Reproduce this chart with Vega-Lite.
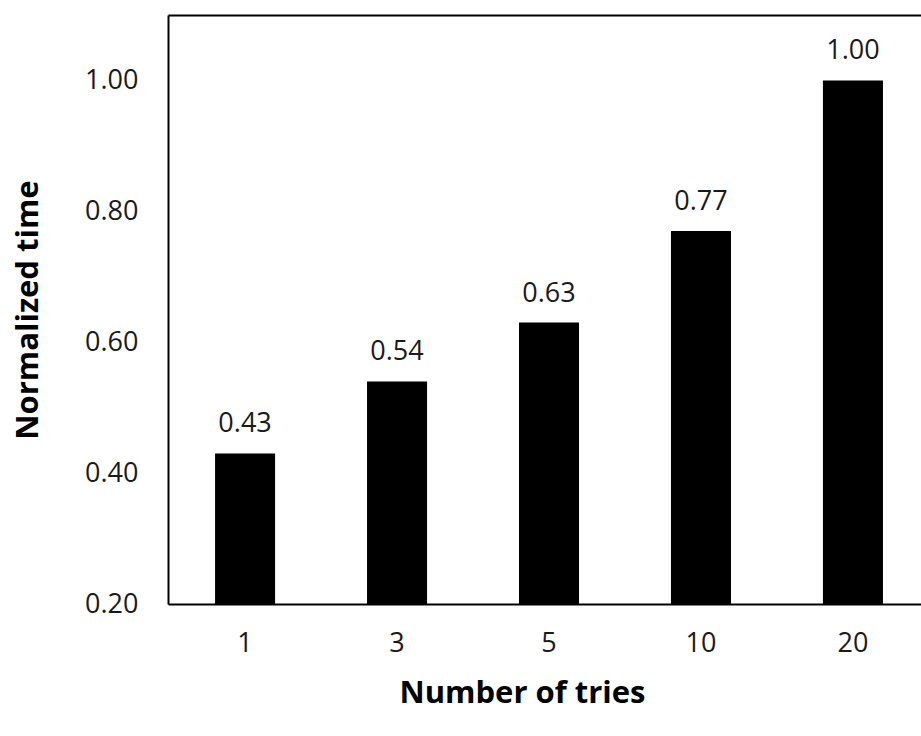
{
  "$schema": "https://vega.github.io/schema/vega-lite/v6.json",
  "width": 753,
  "height": 589,
  "autosize": {"type": "none"},
  "padding": {"left": 168, "top": 15, "right": 0, "bottom": 132},
  "background": "white",
  "config": {
    "view": {"stroke": null},
    "font": "Open Sans",
    "axis": {"grid": false, "ticks": false, "labelFontSize": 27, "labelColor": "#1a1a1a", "titleFontSize": 31, "titleFontWeight": "bold", "titleColor": "#000000", "domainColor": "#000000", "domainWidth": 2}
  },
  "data": {
    "values": [
      {"tries": "1", "time": 0.43, "label": "0.43"},
      {"tries": "3", "time": 0.54, "label": "0.54"},
      {"tries": "5", "time": 0.63, "label": "0.63"},
      {"tries": "10", "time": 0.77, "label": "0.77"},
      {"tries": "20", "time": 1.0, "label": "1.00"}
    ]
  },
  "encoding": {
    "x": {
      "field": "tries",
      "type": "ordinal",
      "sort": null,
      "scale": {"paddingInner": 0.605, "paddingOuter": 0.28, "align": 0.553}
    },
    "y": {
      "field": "time",
      "type": "quantitative",
      "scale": {"domain": [0.2, 1.1], "zero": false, "nice": false}
    }
  },
  "layer": [
    {
      "mark": {"type": "bar", "color": "#000000", "clip": true},
      "encoding": {
        "x": {
          "field": "tries",
          "type": "ordinal",
          "sort": null,
          "axis": {"orient": "bottom", "title": "Number of tries", "labelAngle": 0, "labelPadding": 26, "titlePadding": 22, "labelBaseline": "top", "titleX": 354, "titleAlign": "center"}
        },
        "y": {
          "field": "time",
          "type": "quantitative",
          "axis": {"orient": "left", "title": "Normalized time", "values": [0.2, 0.4, 0.6, 0.8, 1.0], "format": ".2f", "labelPadding": 30, "titlePadding": 40}
        }
      }
    },
    {
      "mark": {"type": "text", "fontSize": 27, "color": "#1a1a1a", "baseline": "alphabetic", "dy": -21},
      "encoding": {
        "x": {
          "field": "tries",
          "type": "ordinal",
          "sort": null,
          "axis": {"orient": "top", "title": null, "labels": false, "ticks": false, "domain": true}
        },
        "y": {"field": "time", "type": "quantitative", "axis": null},
        "text": {"field": "label", "type": "nominal"}
      }
    }
  ],
  "resolve": {"axis": {"x": "independent", "y": "independent"}}
}
